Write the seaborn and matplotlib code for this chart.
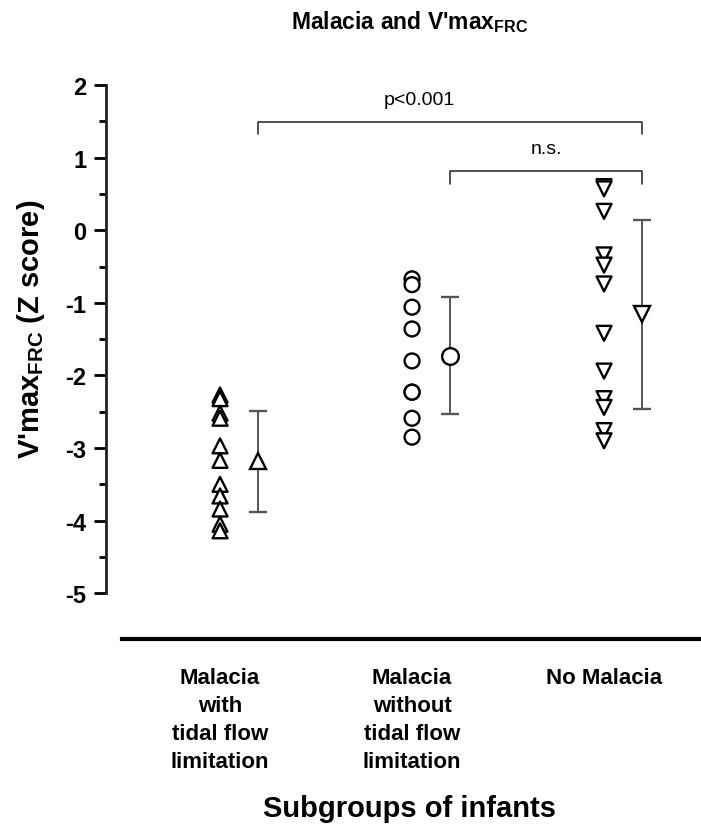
import numpy as np
import pandas as pd
import matplotlib
matplotlib.use("Agg")
import matplotlib.pyplot as plt
import seaborn as sns

# group names (x tick labels)
groups = [
    "Malacia\nwith\ntidal flow\nlimitation",
    "Malacia\nwithout\ntidal flow\nlimitation",
    "No Malacia",
]
group_markers = ["^", "o", "v"]

# V'max FRC z scores
tfl_values = [-2.27, -2.32, -2.52, -2.59, -2.97, -3.17, -3.50, -3.66, -3.84, -4.05, -4.14]
no_tfl_values = [-0.67, -0.75, -1.06, -1.36, -1.80, -2.23, -2.23, -2.59, -2.85]
no_malacia_values = [0.60, 0.57, 0.26, -0.34, -0.48, -0.74, -1.42, -1.94, -2.32, -2.44, -2.76, -2.90]

y_ticks = [2, 1, 0, -1, -2, -3, -4, -5]
y_minor_ticks = [1.5, 0.5, -0.5, -1.5, -2.5, -3.5, -4.5]

# significance brackets: (from group, to group, text)
brackets = [(0, 2, "p<0.001"), (1, 2, "n.s.")]
bracket_heights = [1.49, 0.81]

sns.set_style("white")
plt.rcParams["font.family"] = ["Liberation Sans", "DejaVu Sans"]
plt.rcParams["mathtext.fontset"] = "custom"
plt.rcParams["mathtext.rm"] = "Liberation Sans:bold"
plt.rcParams["mathtext.default"] = "rm"
for key in ["text.color", "axes.labelcolor", "xtick.color", "ytick.color"]:
    plt.rcParams[key] = "black"

rows = []
for i, vals in enumerate([tfl_values, no_tfl_values, no_malacia_values]):
    for v in vals:
        rows.append({"pos": i, "group": groups[i], "value": v})
df = pd.DataFrame(rows)

W, H = 701, 829
fig = plt.figure(figsize=(W / 100, H / 100), dpi=100)
ax = fig.add_axes([106 / W, 1 - 640 / H, 595 / W, (640 - 86) / H])

# individual infants
sns.scatterplot(
    data=df, x="pos", y="value", style="group",
    markers=dict(zip(groups, group_markers)),
    color="white", edgecolor="black", linewidth=1.7, s=115,
    legend=False, ax=ax, zorder=3,
)

# mean +- SD, drawn to the right of each group
mean_offset = 0.2
stats = df.groupby("pos")["value"].agg(["mean", "std"])
for i, m in enumerate(group_markers):
    cont = ax.errorbar(
        i + mean_offset, stats.loc[i, "mean"], yerr=stats.loc[i, "std"],
        fmt=m, ms=12, mfc="white", mec="black", mew=1.7,
        ecolor="#555555", elinewidth=1.4, capsize=6.5, capthick=2.2, zorder=3,
    )
    for cap in cont[1]:
        cap.set_color("black")

# brackets
text_x = [1.04, None]
for (g0, g1, txt), h, tx in zip(brackets, bracket_heights, text_x):
    x0, x1 = g0 + mean_offset, g1 + mean_offset
    ax.plot([x0, x0, x1, x1], [h - 0.17, h, h, h - 0.17], color="#333333", lw=1.2)
    if tx is None:
        tx = (x0 + x1) / 2
    ax.text(tx, h + 0.2, txt, ha="center", va="bottom", fontsize=14)

ax.set_xlim(-0.594, 2.505)
ax.set_ylim(-5.63, 2.0)
ax.set_yticks(y_ticks)
ax.set_yticks(y_minor_ticks, minor=True)
ax.set_yticklabels([str(t) for t in y_ticks], fontsize=17, fontweight="bold")
ax.set_xticks(range(len(groups)))
ax.set_xticklabels(groups, fontsize=16, fontweight="bold", linespacing=1.45)
ax.tick_params(axis="y", which="major", direction="out", length=9, width=2, pad=5, left=True)
ax.tick_params(axis="y", which="minor", direction="out", length=5, width=2, left=True)
ax.tick_params(axis="x", length=0, pad=20)

for side in ["top", "right"]:
    ax.spines[side].set_visible(False)
ax.spines["left"].set_bounds(-5, 2)
ax.spines["left"].set_linewidth(2)
ax.spines["left"].set_color("#222222")
ax.spines["bottom"].set_bounds(-0.51, 2.505)
ax.spines["bottom"].set_linewidth(3)
ax.spines["bottom"].set_color("black")

ax.set_ylabel(r"V'max$_{\mathregular{FRC}}$ (Z score)", fontsize=21, fontweight="bold")
ax.yaxis.set_label_coords(-0.1, 0.56)
ax.set_xlabel("Subgroups of infants", fontsize=21, fontweight="bold")
ax.xaxis.set_label_coords(0.51, -0.28)

fig.text(410 / W, 1 - 22 / H, r"Malacia and V'max$_{\mathregular{FRC}}$",
         ha="center", va="center", fontsize=16.5, fontweight="bold")

fig.savefig("out.png", dpi=100, facecolor="white")
